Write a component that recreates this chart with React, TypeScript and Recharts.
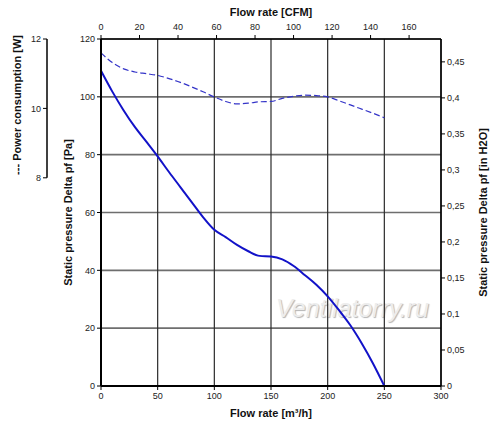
import React from "react";
import {
  LineChart,
  Line,
  XAxis,
  YAxis,
  CartesianGrid,
} from "recharts";

// flow rate in m3/h
const flowRate = [
  0, 10, 20, 30, 40, 50, 60, 70, 80, 90, 100, 110, 120, 130, 140, 150, 160,
  170, 180, 190, 200, 210, 220, 230, 240, 250,
];
// static pressure in Pa
const pressurePa = [
  109, 101.8, 95.3, 89.5, 84.5, 79.4, 74, 68.8, 63.6, 58.4, 54, 51.5, 48.8,
  46.6, 45, 44.8, 43.8, 41.5, 38.3, 35, 31, 26.2, 21, 14.8, 7.8, 0,
];
// power consumption in W
const powerW = [
  11.6, 11.32, 11.14, 11.05, 11.0, 10.95, 10.86, 10.75, 10.62, 10.48, 10.33,
  10.2, 10.13, 10.15, 10.19, 10.2, 10.29, 10.35, 10.38, 10.37, 10.33, 10.22,
  10.1, 9.98, 9.86, 9.73,
];

const flowTicks = [0, 50, 100, 150, 200, 250, 300];
const cfmTicks = [0, 20, 40, 60, 80, 100, 120, 140, 160];
const paTicks = [0, 20, 40, 60, 80, 100, 120];
const powerTicks = [8, 10, 12];
const inH2OTicks = [0, 0.05, 0.1, 0.15, 0.2, 0.25, 0.3, 0.35, 0.4, 0.45];

const M3H_PER_CFM = 1.69901;
const INH2O_PER_PA = 0.0040146;

const data = flowRate.map((q, i) => ({
  q,
  cfm: q / M3H_PER_CFM,
  pa: pressurePa[i],
  w: powerW[i],
}));

const tickStyle = { fontSize: 9, fill: "#222" };
const labelStyle = { fontSize: 11, fontWeight: "bold", fill: "#111", textAnchor: "middle" as const };
const PLOT_H = 347;

const powerLabel = (props: any) => {
  const vb = props.viewBox || { x: 0, y: 0, width: 47, height: PLOT_H };
  const cx = vb.x + 17;
  const cy = vb.y + vb.height * 0.19;
  return (
    <text
      x={cx}
      y={cy}
      transform={`rotate(-90, ${cx}, ${cy})`}
      textAnchor="middle"
      dominantBaseline="central"
      style={{ fontSize: 11, fontWeight: "bold", fill: "#111" }}
    >
      --- Power consumption [W]
    </text>
  );
};

export default function App() {
  return (
    <div
      style={{
        position: "absolute",
        left: 0,
        top: 0,
        width: 500,
        height: 427,
        background: "#fff",
        fontFamily: "'Liberation Sans', Arial, sans-serif",
      }}
    >
      <div
        style={{
          position: "absolute",
          left: 276,
          top: 294,
          fontSize: 25,
          fontStyle: "italic",
          color: "#ededed",
          textShadow: "1px 1px 1px #b4b4b4",
          whiteSpace: "nowrap",
        }}
      >
        Ventilatorry.ru
      </div>
      <LineChart
        width={500}
        height={427}
        data={data}
        margin={{ top: 0, right: 0, bottom: 0, left: 0 }}
        style={{ position: "absolute", left: 0, top: 0 }}
      >
        <CartesianGrid
          xAxisId="m3h"
          yAxisId="pa"
          vertical={false}
          stroke="#6e6e6e"
          strokeWidth={1.6}
        />
        <CartesianGrid
          xAxisId="m3h"
          yAxisId="pa"
          horizontal={false}
          stroke="#2a2a2a"
          strokeWidth={1.2}
        />
        <XAxis
          xAxisId="m3h"
          dataKey="q"
          type="number"
          domain={[0, 300]}
          ticks={flowTicks}
          interval={0}
          height={41}
          tick={tickStyle}
          tickSize={4}
          tickMargin={3}
          tickLine={{ stroke: "#000" }}
          axisLine={{ stroke: "#000", strokeWidth: 2 }}
          label={{
            value: "Flow rate [m³/h]",
            position: "insideBottom",
            offset: 10,
            style: labelStyle,
          }}
        />
        <XAxis
          xAxisId="cfm"
          dataKey="cfm"
          orientation="top"
          type="number"
          domain={[0, 300 / M3H_PER_CFM]}
          allowDataOverflow
          ticks={cfmTicks}
          interval={0}
          height={39}
          tick={tickStyle}
          tickSize={4}
          tickMargin={5}
          tickLine={{ stroke: "#000" }}
          axisLine={{ stroke: "#000", strokeWidth: 1.5 }}
          label={{
            value: "Flow rate [CFM]",
            position: "insideTop",
            offset: 8,
            style: labelStyle,
          }}
        />
        <YAxis
          yAxisId="pa"
          orientation="left"
          type="number"
          domain={[0, 120]}
          ticks={paTicks}
          interval={0}
          width={54}
          tick={tickStyle}
          tickSize={4}
          tickLine={{ stroke: "#000" }}
          axisLine={{ stroke: "#000", strokeWidth: 2 }}
          label={{
            value: "Static pressure Delta pf [Pa]",
            angle: -90,
            position: "insideLeft",
            offset: 21,
            style: labelStyle,
          }}
        />
        <YAxis
          yAxisId="power"
          orientation="left"
          type="number"
          domain={[2, 12]}
          allowDataOverflow
          ticks={powerTicks}
          interval={0}
          width={47}
          tick={tickStyle}
          tickSize={4}
          tickLine={{ stroke: "#000" }}
          axisLine={{
            stroke: "#000",
            strokeWidth: 1.5,
            strokeDasharray: `${PLOT_H * 0.4} 1000`,
          }}
          label={{ content: powerLabel }}
        />
        <YAxis
          yAxisId="inh2o"
          orientation="right"
          type="number"
          domain={[0, 120 * INH2O_PER_PA]}
          allowDataOverflow
          ticks={inH2OTicks}
          interval={0}
          width={59}
          tick={tickStyle}
          tickSize={4}
          tickLine={{ stroke: "#000" }}
          axisLine={{ stroke: "#000", strokeWidth: 1.5 }}
          tickFormatter={(v: number) => String(v).replace(".", ",")}
          label={{
            value: "Static pressure Delta pf [in H2O]",
            angle: -90,
            position: "insideRight",
            offset: 17,
            style: labelStyle,
          }}
        />
        <Line
          xAxisId="m3h"
          yAxisId="power"
          type="monotone"
          dataKey="w"
          stroke="#3434c8"
          strokeWidth={1.2}
          strokeDasharray="6 3"
          dot={false}
          isAnimationActive={false}
        />
        <Line
          xAxisId="m3h"
          yAxisId="pa"
          type="monotone"
          dataKey="pa"
          stroke="#1212c8"
          strokeWidth={2}
          dot={false}
          isAnimationActive={false}
        />
      </LineChart>
    </div>
  );
}
